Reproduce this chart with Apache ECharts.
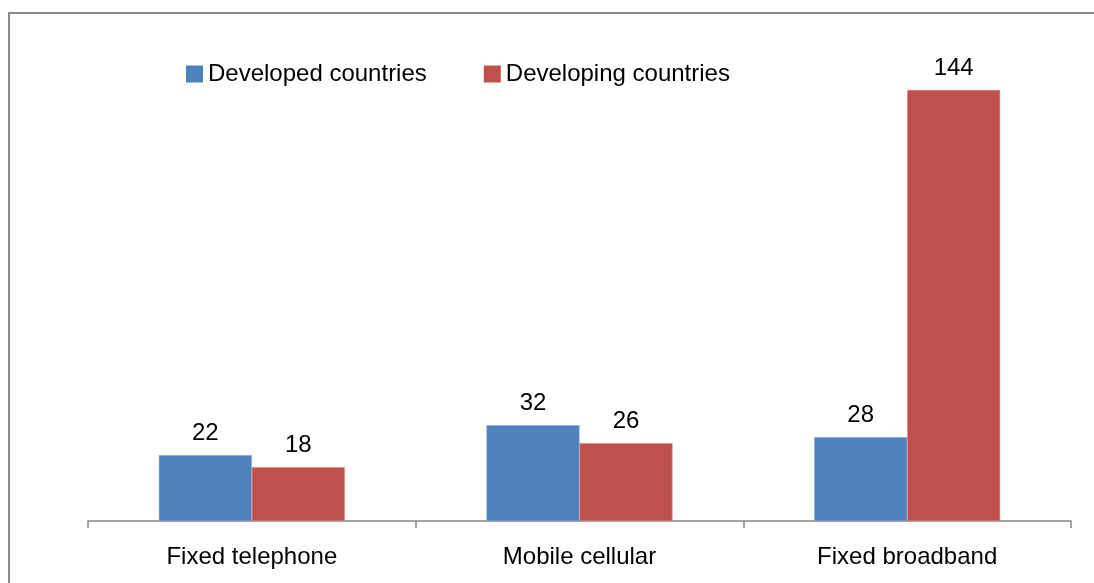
<!DOCTYPE html>
<html>
<head>
<meta charset="utf-8">
<script src="https://cdn.jsdelivr.net/npm/echarts@6/dist/echarts.min.js"></script>
<style>html,body{margin:0;padding:0;background:#fff}#c{width:1094px;height:583px}</style>
</head>
<body>
<div id="c"></div>
<script>
var categories = ['Fixed telephone', 'Mobile cellular', 'Fixed broadband'];
var seriesNames = ['Developed countries', 'Developing countries'];
var developed = [22, 32, 28];
var developing = [18, 26, 144];

var FONT = '"Liberation Sans", Arial, sans-serif';
var chart = echarts.init(document.getElementById('c'), null, {renderer: 'canvas'});
chart.setOption({
  animation: false,
  backgroundColor: '#fff',
  graphic: [{
    type: 'rect',
    shape: {x: 9, y: 13, width: 1100, height: 600},
    style: {fill: 'none', stroke: '#8c8c8c', lineWidth: 2}
  }],
  legend: {
    left: 181, top: 57,
    itemWidth: 17, itemHeight: 17, itemGap: 57,
    icon: 'rect',
    itemStyle: {borderWidth: 0},
    textStyle: {fontFamily: FONT, fontSize: 24, color: '#000'},
    data: seriesNames
  },
  grid: {left: 88, right: 23, top: 42, bottom: 62, containLabel: false},
  xAxis: {
    type: 'category', data: categories,
    axisLine: {lineStyle: {color: '#868686', width: 1.5}},
    axisTick: {show: true, length: 7, lineStyle: {color: '#868686', width: 1.5}},
    axisLabel: {fontFamily: FONT, fontSize: 24, color: '#000', margin: 24}
  },
  yAxis: {
    type: 'value', min: 0, max: 160, show: false,
    splitLine: {show: false}
  },
  series: [{
    name: seriesNames[0], type: 'bar', data: developed,
    barWidth: 93, barGap: '0%',
    itemStyle: {color: '#4F81BD', borderColor: '#7ea1cf', borderWidth: 0.6},
    label: {show: true, position: 'top', distance: 10, fontFamily: FONT, fontSize: 24, color: '#000'}
  }, {
    name: seriesNames[1], type: 'bar', data: developing,
    barWidth: 93, barGap: '0%',
    itemStyle: {color: '#C0504D', borderColor: '#d98886', borderWidth: 0.6},
    label: {show: true, position: 'top', distance: 10, fontFamily: FONT, fontSize: 24, color: '#000'}
  }]
});
</script>
</body>
</html>
